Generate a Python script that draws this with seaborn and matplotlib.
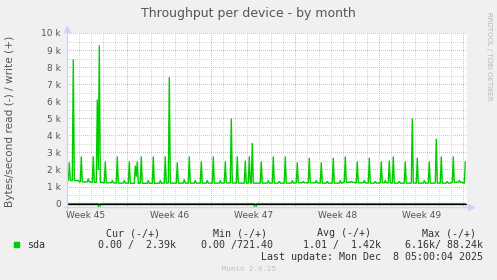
import numpy as np
import pandas as pd
import matplotlib
matplotlib.use("Agg")
import matplotlib.pyplot as plt
import seaborn as sns
from matplotlib.patches import Rectangle

# ---------------- data (time in days since Mon 2025-11-03 00:00, week 45) -------------
week_labels = ["Week 45", "Week 46", "Week 47", "Week 48", "Week 49"]
week_centers = [3.5, 10.5, 17.5, 24.5, 31.5]
ytick_vals = [0, 1000, 2000, 3000, 4000, 5000, 6000, 7000, 8000, 9000, 10000]
ytick_labels = ["0", "1 k", "2 k", "3 k", "4 k", "5 k", "6 k", "7 k", "8 k", "9 k", "10 k"]

first_day = 2          # first sample: day 2.0, samples every 2 hours
last_day = 35.17
# baseline write rate (kB/s) for each day 2..35
base_kB = [1.35, 1.27, 1.25, 1.22, 1.20, 1.19, 1.19, 1.19, 1.20, 1.20,
           1.20, 1.20, 1.20, 1.21, 1.20, 1.20, 1.20, 1.20, 1.20, 1.22,
           1.22, 1.20, 1.20, 1.25, 1.22, 1.20, 1.22, 1.20, 1.20, 1.20,
           1.20, 1.20, 1.25, 1.20]
# write peaks (day, kB/s)
spike_day = [2.17, 2.50, 3.17, 3.75, 4.17, 4.50, 4.58, 4.67, 5.17, 5.75,
             6.17, 6.75, 7.17, 7.67, 7.75, 7.83, 8.17, 8.75, 9.17, 9.75,
             10.17, 10.50, 11.17, 11.75, 12.17, 12.67, 13.17, 13.67, 14.17, 14.75,
             15.17, 15.67, 16.17, 16.83, 17.17, 17.42, 18.17, 18.75, 19.17, 19.67,
             20.17, 20.75, 21.17, 21.67, 22.17, 22.75, 23.17, 23.67, 24.17, 24.75,
             25.17, 25.67, 26.17, 26.75, 27.17, 27.67, 28.17, 28.50, 28.83, 29.17,
             29.67, 30.17, 30.75, 31.17, 31.75, 32.17, 32.75, 33.17, 33.67, 34.17,
             34.67, 35.17]
spike_kB = [2.39, 8.43, 2.74, 1.45, 2.74, 6.08, 2.00, 9.25, 2.45, 1.35,
            2.74, 1.35, 2.45, 2.20, 1.60, 2.45, 2.74, 1.35, 2.74, 1.35,
            2.74, 7.39, 2.39, 1.40, 2.74, 1.35, 2.45, 1.35, 2.74, 1.35,
            2.45, 4.96, 2.74, 2.49, 2.74, 3.53, 2.45, 1.35, 2.74, 1.30,
            2.74, 1.35, 2.39, 1.30, 2.66, 1.35, 2.39, 1.30, 2.66, 1.35,
            2.74, 1.30, 2.45, 1.35, 2.66, 1.30, 2.45, 1.35, 2.50, 2.74,
            1.30, 2.45, 4.96, 2.66, 1.35, 2.45, 3.78, 2.74, 1.30, 2.74,
            1.35, 2.45]
# read peaks (plotted negative)
read_day = [4.67, 17.67]
read_kB = [6.16, 3.00]

# ---------------- build table -------------
k = np.arange(int(round(first_day * 12)), int(round(last_day * 12)) + 1)
day = k / 12.0
write = np.array([base_kB[int(d) - first_day] for d in day]) * 1000.0
for d, v in zip(spike_day, spike_kB):
    write[np.argmin(np.abs(day - d))] = v * 1000.0
read = np.zeros_like(write)
for d, v in zip(read_day, read_kB):
    read[np.argmin(np.abs(day - d))] = -v * 1000.0
df = pd.DataFrame({"day": day, "write": write, "read": read})

# ---------------- figure -------------
sns.set_style("white")
plt.rcParams["font.family"] = ["DejaVu Sans"]
W, H = 497, 280
fig = plt.figure(figsize=(W / 100, H / 100), dpi=100, facecolor="#f0f0f0")

L, R, T, B = 67, 467, 33, 207
ax = fig.add_axes([L / W, 1 - B / H, (R - L) / W, (B - T) / H])
ax.set_facecolor("white")
xmin, xmax = (L - 43.3) / 12.0, (R - 43.3) / 12.0
ax.set_xlim(xmin, xmax)
ax.set_ylim(-200, 10000)

dot = (0, (1, 2))
grey_c, red_c = "#d6d6d6", "#ecb4b4"
# grid
for y in np.arange(500, 10001, 1000):
    ax.axhline(y, color=grey_c, lw=0.72, ls=dot, zorder=1, antialiased=False)
for y in range(1000, 10001, 1000):
    ax.axhline(y, color=red_c, lw=0.72, ls=dot, zorder=1, antialiased=False)
for d in range(3, 36):
    if d % 7:
        ax.axvline(d, color=grey_c, lw=0.72, ls=dot, zorder=1, antialiased=False)
for d in range(7, 36, 7):
    ax.axvline(d, color=red_c, lw=0.72, ls=dot, zorder=1, antialiased=False)

sns.lineplot(data=df, x="day", y="read", ax=ax, color="#00cc00", lw=1.0, zorder=3)
sns.lineplot(data=df, x="day", y="write", ax=ax, color="#00cc00", lw=1.0, zorder=3)
ax.axhline(0, color="black", lw=1.0, zorder=4)

for s in ax.spines.values():
    s.set_visible(False)
ax.set_xlabel("")
ax.set_ylabel("")
axis_c = "#cdd5f7"
ax.plot([0, 0], [-0.02, 1.02], transform=ax.transAxes, color=axis_c, lw=1.0, clip_on=False, zorder=5)
ax.plot([-0.008, 1.0], [0, 0], transform=ax.transAxes, color=axis_c, lw=1.0, clip_on=False, zorder=5)
ax.plot([0], [1.025], marker="^", ms=4, color=axis_c, transform=ax.transAxes, clip_on=False, zorder=5)
ax.plot([1.01], [0], marker=">", ms=4, color=axis_c, transform=ax.transAxes, clip_on=False, zorder=5)

txt = "#555555"
ax.set_yticks(ytick_vals)
ax.set_yticklabels(ytick_labels, fontsize=6.5, color=txt)
ax.set_xticks(week_centers)
ax.set_xticklabels(week_labels, fontsize=6.5, color=txt)
ax.tick_params(axis="y", length=0, pad=4.5)
ax.tick_params(axis="x", length=0, pad=3)

def ftext(x, y, s, **kw):
    fig.text(x / W, 1 - y / H, s, **kw)

ftext(248, 14, "Throughput per device - by month", ha="center", va="center", fontsize=9.0, color=txt)
ftext(10.5, 121, "Bytes/second read (-) / write (+)", ha="center", va="center",
      rotation=90, fontsize=7.6, color=txt)
ftext(488.5, 56, "RRDTOOL / TOBI OETIKER", ha="center", va="center", rotation=270,
      fontsize=5.0, color="#b8b8b8")

mono = dict(family="DejaVu Sans Mono", fontsize=7.2, color="#333333", va="center")
ftext(160, 233.5, "Cur (-/+)", ha="right", **mono)
ftext(266.7, 233.5, "Min (-/+)", ha="right", **mono)
ftext(370.7, 233.5, "Avg (-/+)", ha="right", **mono)
ftext(476, 233.5, "Max (-/+)", ha="right", **mono)
ftext(26.7, 245, "sda", ha="left", **mono)
ftext(175.7, 245, "0.00 /  2.39k", ha="right", **mono)
ftext(273.3, 245, "0.00 /721.40", ha="right", **mono)
ftext(381, 245, "1.01 /  1.42k", ha="right", **mono)
ftext(482.7, 245, "6.16k/ 88.24k", ha="right", **mono)
ftext(482.7, 257.5, "Last update: Mon Dec  8 05:00:04 2025", ha="right", **mono)
ftext(249, 269, "Munin 2.0.25", ha="center", va="center", family="DejaVu Sans Mono",
      fontsize=5.3, color="#c0c0c0")
fig.patches.append(Rectangle((14 / W, 1 - 246.7 / H), 5.3 / W, 4.7 / H,
                             transform=fig.transFigure, color="#00cc00"))

fig.savefig("out.png", dpi=100, facecolor=fig.get_facecolor())
